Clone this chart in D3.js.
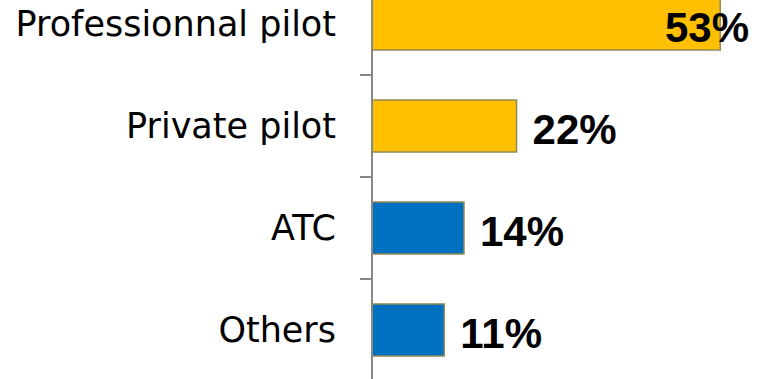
<!DOCTYPE html>
<html>
<head>
<meta charset="utf-8">
<script src="https://cdn.jsdelivr.net/npm/d3@7"></script>
<style>
  html, body { margin: 0; padding: 0; background: #fff; }
  svg { display: block; }
</style>
</head>
<body>
<svg id="chart" width="765" height="379"></svg>
<script>
// Share of respondents by profile (%)
const categories = ["Professionnal pilot", "Private pilot", "ATC", "Others"];
const values = [53, 22, 14, 11];
const barColors = ["#FFC000", "#FFC000", "#0070C0", "#0070C0"];

const width = 765, height = 379;
const axisX = 372;
const labelFont = "'Century Gothic', 'DejaVu Sans', sans-serif";
const valueFont = "'Century Gothic', 'Liberation Sans', Arial, sans-serif";

const svg = d3.select("#chart");

const x = d3.scaleLinear().domain([0, 60]).range([axisX, axisX + 394.2]);

const y = d3.scaleBand()
  .domain(categories)
  .range([-27, 381])
  .paddingInner(0.49)
  .paddingOuter(0.245);

// Bars
svg.append("g").selectAll("rect")
  .data(categories)
  .join("rect")
  .attr("x", x(0))
  .attr("y", d => y(d))
  .attr("width", (d, i) => x(values[i]) - x(0))
  .attr("height", y.bandwidth())
  .attr("fill", (d, i) => barColors[i])
  .attr("stroke", "#948A54")
  .attr("stroke-width", 1.5);

// Category labels
const axis = svg.append("g")
  .attr("transform", `translate(${axisX},0)`)
  .call(d3.axisLeft(y).tickSize(0).tickPadding(36));
axis.select(".domain").remove();
axis.selectAll("text")
  .attr("font-family", labelFont)
  .attr("font-size", 35)
  .attr("fill", "#000")
  .attr("dy", null)
  .attr("y", 12);

// Vertical axis line and ticks between categories
svg.append("line")
  .attr("x1", axisX).attr("x2", axisX)
  .attr("y1", 0).attr("y2", height)
  .attr("stroke", "#888").attr("stroke-width", 2);

const boundaries = categories.slice(1).map(d => y(d) - y.step() * y.paddingInner() / 2);
svg.append("g").selectAll("line")
  .data(boundaries)
  .join("line")
  .attr("x1", axisX - 12).attr("x2", axisX)
  .attr("y1", d => d).attr("y2", d => d)
  .attr("stroke", "#888").attr("stroke-width", 2);

// Value labels, kept inside the right edge
const labels = svg.append("g").selectAll("text")
  .data(categories)
  .join("text")
  .attr("font-family", valueFont)
  .attr("font-weight", "bold")
  .attr("font-size", 42)
  .attr("fill", "#000")
  .attr("y", d => y(d) + y.bandwidth() / 2 + 18)
  .text((d, i) => values[i] + "%");

labels.each(function(d, i) {
  const w = this.getComputedTextLength();
  const xi = Math.min(x(values[i]) + 16, 749 - w);
  d3.select(this).attr("x", xi);
});
</script>
</body>
</html>
